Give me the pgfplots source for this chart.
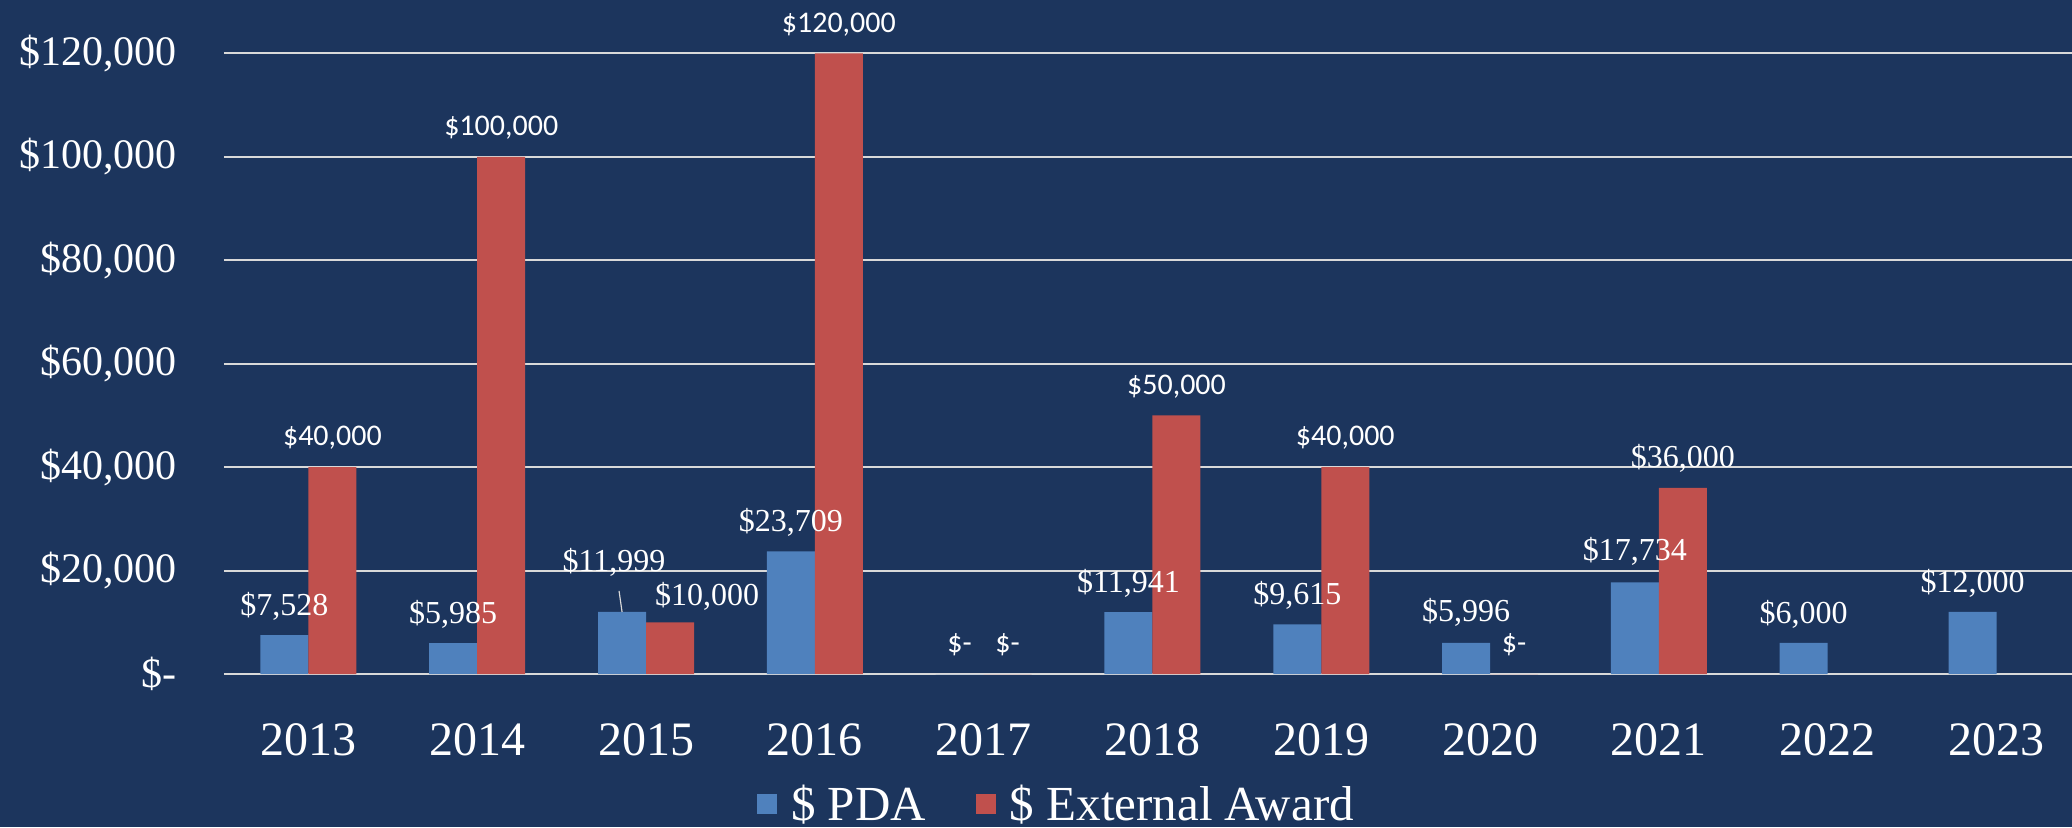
\documentclass[border=0pt]{standalone}
\usepackage{fontspec}
\setmainfont{Liberation Serif}
\newfontfamily\carl{Carlito}
\usepackage{pgfplots}
\usepackage{pgfplotstable}
\pgfplotsset{compat=1.18}

\definecolor{navy}{RGB}{28,53,93}
\definecolor{pdablue}{RGB}{79,129,189}
\definecolor{extred}{RGB}{192,80,77}
\definecolor{gridgray}{RGB}{217,217,217}

% PDA series (dx, dy: label nudges in pt)
\pgfplotstableread{
x y dx dy lab
0 7528 0 0 {\$7,528}
1 5985 0 0 {\$5,985}
2 11999 -4 10.5 {\$11,999}
3 23709 0 0 {\$23,709}
4 0 0 0 {\carl\fontsize{15}{17}\selectfont\$-}
5 11941 0 0 {\$11,941}
6 9615 0 0 {\$9,615}
7 5996 0 1 {\$5,996}
8 17734 0 1 {\$17,734}
9 6000 0 0 {\$6,000}
10 12000 0 0 {\$12,000}
}\pda

% External award series
\pgfplotstableread{
x y dx dy lab
0 40000 0 0 {\carl\fontsize{15}{17}\selectfont\$40,000}
1 100000 0 0 {\carl\fontsize{15}{17}\selectfont\$100,000}
2 10000 18.5 -1.5 {\$10,000}
3 120000 0 0 {\carl\fontsize{15}{17}\selectfont\$120,000}
4 0 0 0 {\carl\fontsize{15}{17}\selectfont\$-}
5 50000 0 0 {\carl\fontsize{15}{17}\selectfont\$50,000}
6 40000 0 0 {\carl\fontsize{15}{17}\selectfont\$40,000}
7 0 0 0 {\carl\fontsize{15}{17}\selectfont\$-}
8 36000 0 0 {\$36,000}
}\ext

\begin{document}
\begin{tikzpicture}
\fill[navy] (-112pt,-76.5pt) rectangle (924pt,337pt);
\begin{axis}[
  at={(0,0)}, anchor=south west,
  scale only axis, width=924pt, height=310.35pt,
  ybar=0pt, bar width=24pt,
  xmin=-0.5, xmax=10.447, ymin=0, ymax=120000,
  scaled y ticks=false,
  xtick={0,...,10},
  xticklabels={2013,2014,2015,2016,2017,2018,2019,2020,2021,2022,2023},
  ytick={0,20000,40000,60000,80000,100000,120000},
  yticklabels={{\$-},{\$20,000},{\$40,000},{\$60,000},{\$80,000},{\$100,000},{\$120,000}},
  xticklabel style={anchor=center, inner sep=0pt, yshift=-28.5pt,
    text=white, font=\fontsize{24}{28}\selectfont},
  yticklabel style={anchor=east, inner sep=0pt, xshift=-23.5pt,
    text=white, font=\fontsize{21}{25}\selectfont},
  ymajorgrids, major grid style={gridgray, line width=1pt},
  axis line style={draw=none}, tick style={draw=none},
  clip=false,
  point meta=explicit symbolic,
  nodes near coords,
  every node near coord/.append style={anchor=center, text=white,
    inner sep=0pt, font=\fontsize{16}{18}\selectfont},
  legend style={at={(0.451,-0.21)}, anchor=center, draw=none, fill=none,
    text=white, font=\fontsize{24.5}{28}\selectfont, legend columns=-1,
    /tikz/every odd column/.append style={column sep=5pt},
    /tikz/every even column/.append style={column sep=23pt}},
  legend image code/.code={\fill[#1] (0pt,-5pt) rectangle (10pt,5pt);},
]
\addplot[fill=pdablue, draw=none,
  visualization depends on={\thisrow{dx} \as \dx},
  visualization depends on={\thisrow{dy} \as \dy},
  nodes near coords style={xshift=\dx pt, yshift={14.5pt+\dy pt}}]
  table[x=x, y=y, meta=lab] {\pda};
\addplot[fill=extred, draw=none,
  visualization depends on={\thisrow{dx} \as \dx},
  visualization depends on={\thisrow{dy} \as \dy},
  nodes near coords style={xshift=\dx pt, yshift={14.5pt+\dy pt}}]
  table[x=x, y=y, meta=lab] {\ext};
\legend{\$ PDA, \$ External Award}
\draw[gridgray, line width=0.6pt] (axis cs:1.858,11999) -- ++(-1.5pt,10.5pt);
\end{axis}
\pgfresetboundingbox
\useasboundingbox (-112pt,-76.5pt) rectangle (924pt,337pt);
\end{tikzpicture}
\end{document}
